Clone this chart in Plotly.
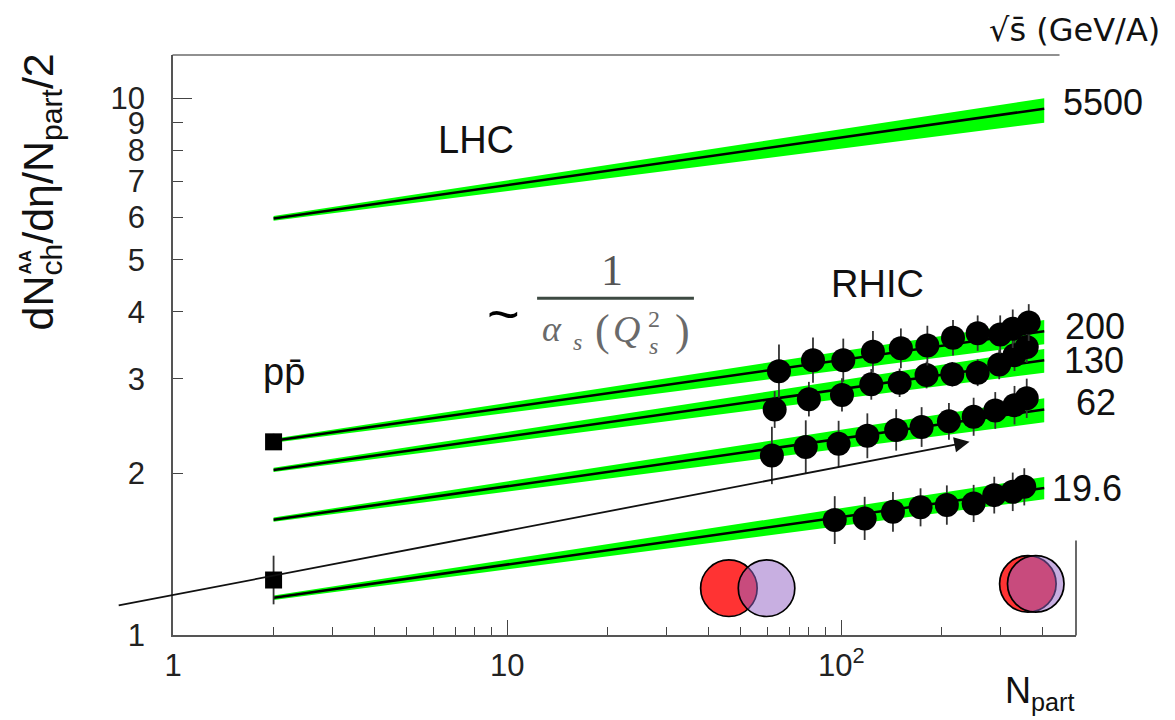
import plotly.graph_objects as go

# ---- data ----
energy_labels = ["5500", "200", "130", "62", "19.6"]
line_x = [2, 405]
line_5500 = [5.97, 9.56]
band_5500_hi = [6.03, 10.0]
band_5500_lo = [5.91, 9.0]
line_200 = [2.30, 3.68]
band_200_hi = [2.32, 3.86]
band_200_lo = [2.28, 3.48]
line_130 = [2.03, 3.25]
band_130_hi = [2.048, 3.41]
band_130_lo = [2.012, 3.08]
line_62 = [1.64, 2.63]
band_62_hi = [1.655, 2.76]
band_62_lo = [1.625, 2.49]
line_19 = [1.173, 1.878]
band_19_hi = [1.184, 1.97]
band_19_lo = [1.162, 1.79]

x_200 = [65.1, 82.3, 101.4, 124.4, 150.8, 181, 216, 256, 299, 326, 364]
y_200 = [3.10, 3.25, 3.25, 3.37, 3.42, 3.46, 3.58, 3.65, 3.63, 3.72, 3.82]
e_200 = [12.1, 10.2, 9.7, 9.3, 8.9, 8.9, 7.9, 7.9, 8.5, 8.6, 8.2]

x_130 = [63.2, 80, 100.5, 123, 149.5, 180, 215, 256, 297, 330, 359]
y_130 = [2.63, 2.75, 2.80, 2.93, 2.95, 3.05, 3.06, 3.08, 3.19, 3.32, 3.44]
e_130 = [8.2, 7.7, 7.4, 6.8, 6.3, 5.9, 5.4, 5.9, 6.5, 7.0, 7.0]

x_62 = [62, 78.3, 98.2, 119.7, 146, 174, 210, 249, 289, 330, 359]
y_62 = [2.16, 2.24, 2.27, 2.35, 2.41, 2.44, 2.50, 2.55, 2.62, 2.68, 2.76]
e_62 = [13.1, 12.1, 10.4, 10.1, 9.3, 8.9, 8.2, 8.5, 8.2, 8.6, 8.8]

x_19 = [95.6, 117.5, 142.8, 172.7, 207, 249, 287, 326, 353]
y_19 = [1.637, 1.649, 1.696, 1.729, 1.746, 1.758, 1.822, 1.848, 1.888]
e_19 = [10.8, 9.7, 8.9, 8.5, 8.8, 8.3, 8.2, 8.6, 8.3]

pp_x = [2, 2]
pp_y = [2.29, 1.266]
pp_e = [3.5, 11.0]

y_ticks = [1, 2, 3, 4, 5, 6, 7, 8, 9, 10]
y_tick_text = ["1", "2", "3", "4", "5", "6", "7", "8", "9", "10"]
x_ticks = [1, 10, 100]
x_tick_text = ["1", "10", "10<sup>2</sup>"]
x_minor = [2, 3, 4, 5, 6, 7, 8, 9, 20, 30, 40, 50, 60, 70, 80, 90, 200, 300, 400]

GREEN = "#00ff00"
SANS = "Liberation Sans"
SERIF = "Liberation Serif"
INK = "#222222"

# the page body has an 8 px margin, so the figure is 8 px smaller and shifted
PAGE = 8
L, T, W, H = 172.5, 55, 904, 580.5


def px(x):
    return (x - L) / W


def py(y):
    return (T + H - y) / H


fig = go.Figure()


def add_band(hi, lo, mid):
    fig.add_trace(go.Scatter(x=line_x + line_x[::-1], y=hi + lo[::-1], mode="lines",
                             line=dict(width=0, color=GREEN), fill="toself",
                             fillcolor=GREEN, hoverinfo="skip", showlegend=False))
    fig.add_trace(go.Scatter(x=line_x, y=mid, mode="lines",
                             line=dict(color="black", width=2.5), showlegend=False))


def add_points(x, y, e, symbol="circle", size=24):
    plus = [v * p / 100 for v, p in zip(y, e)]
    minus = [v - v / (1 + p / 100) for v, p in zip(y, e)]
    fig.add_trace(go.Scatter(x=x, y=y, mode="markers",
                             marker=dict(color="black", size=size, symbol=symbol),
                             error_y=dict(type="data", array=plus, arrayminus=minus,
                                          color="#333333", thickness=1.8, width=0),
                             showlegend=False))


add_band(band_5500_hi, band_5500_lo, line_5500)
add_band(band_200_hi, band_200_lo, line_200)
add_band(band_130_hi, band_130_lo, line_130)
add_band(band_62_hi, band_62_lo, line_62)
add_band(band_19_hi, band_19_lo, line_19)
add_points(x_19, y_19, e_19)
add_points(x_62, y_62, e_62)
add_points(x_130, y_130, e_130)
add_points(x_200, y_200, e_200)
add_points(pp_x, pp_y, pp_e, symbol="square", size=17)


def text(t, x, y, size, font=SANS, color="#111111", anchor="center", angle=0):
    return dict(text=t, x=px(x), y=py(y), xref="paper", yref="paper", showarrow=False,
                xanchor=anchor, yanchor="middle", textangle=angle,
                font=dict(family=font, size=size, color=color))


FRAC = "#6a6a6a"
annotations = [
    text("LHC", 476, 140, 38),
    text("RHIC", 878, 284, 38),
    text("pp\u0304", 284, 372, 38),
    text("~", 503, 314, 56, color="black"),
    text("1", 612, 271, 44, font=SERIF, color="#555555"),
    text("<i>\u03b1</i>", 552, 329, 36, font=SERIF, color=FRAC),
    text("<i>s</i>", 577, 342, 24, font=SERIF, color=FRAC),
    text("(", 602, 331, 44, font=SERIF, color=FRAC),
    text("<i>Q</i>", 627, 329, 38, font=SERIF, color=FRAC),
    text("2", 654, 319, 24, font=SERIF, color=FRAC),
    text("<i>s</i>", 654, 346, 24, font=SERIF, color=FRAC),
    text(")", 683, 331, 44, font=SERIF, color=FRAC),
    text(energy_labels[0], 1104, 103, 36),
    text(energy_labels[1], 1096, 327, 36),
    text(energy_labels[2], 1095, 361, 36),
    text(energy_labels[3], 1097, 403, 36),
    text(energy_labels[4], 1088, 489, 36),
    text("\u221as\u0304 (GeV/A)", 1075, 30, 32, font="DejaVu Sans"),
    text("N<sub>part</sub>", 1040, 694, 36),
    text("dN<sub>ch</sub>/d\u03b7/N<sub>part</sub>/2", 40, 192, 43, angle=-90),
    text("<b>AA</b>", 25, 262, 17, angle=-90),
    # arrow, in log10 data coordinates
    dict(x=2.384, y=0.3598, ax=-0.167, ay=0.0545, xref="x", yref="y", axref="x", ayref="y",
         text="", showarrow=True, arrowhead=2, arrowsize=1.7, arrowwidth=1.8,
         arrowcolor="#111111", standoff=0, startstandoff=0),
]


def circle(cx, cy, r, fill):
    return dict(type="circle", xref="paper", yref="paper", x0=px(cx - r), x1=px(cx + r),
                y0=py(cy + r), y1=py(cy - r), fillcolor=fill,
                line=dict(color="black", width=1.7))


RED = "#ff3333"
LAV = "rgba(147,98,196,0.51)"
shapes = [
    circle(729, 588.7, 28.3, RED),
    circle(766.7, 588.7, 28.3, LAV),
    circle(1028.3, 584.3, 28.3, RED),
    circle(1036.2, 584.3, 28.3, LAV),
    dict(type="line", xref="paper", yref="paper", x0=px(172), x1=px(1060), y0=py(55), y1=py(55),
         line=dict(color="#222222", width=1.2)),
    dict(type="line", xref="paper", yref="paper", x0=px(1076.5), x1=px(1076.5), y0=py(541), y1=py(636),
         line=dict(color="#444444", width=1.6)),
    dict(type="line", xref="paper", yref="paper", x0=px(537), x1=px(694), y0=py(298.5), y1=py(298.5),
         line=dict(color="#3d4a42", width=3)),
]

fig.update_layout(
    width=1175 - PAGE, height=720 - PAGE, autosize=False,
    margin=dict(l=L - PAGE, r=1175 - L - W, t=T - PAGE, b=720 - T - H, pad=0),
    paper_bgcolor="white", plot_bgcolor="white",
    showlegend=False, annotations=annotations, shapes=shapes,
    font=dict(family=SANS, color=INK),
    xaxis=dict(type="log", range=[0, 904 / 334.5], showgrid=False, zeroline=False,
               showline=True, linecolor="#555555", linewidth=1.6, mirror=False,
               tickmode="array", tickvals=x_ticks, ticktext=x_tick_text,
               ticks="inside", ticklen=15, tickcolor="#444444", tickwidth=1.2,
               tickfont=dict(family=SANS, size=31, color=INK), ticklabelstandoff=2,
               minor=dict(tickmode="array", tickvals=x_minor, ticks="inside", ticklen=8,
                          tickcolor="#444444", tickwidth=1.2, showgrid=False)),
    yaxis=dict(type="log", range=[0, 580.5 / 537.3], showgrid=False, zeroline=False,
               showline=True, linecolor="#555555", linewidth=1.6, mirror=False,
               tickmode="array", tickvals=y_ticks, ticktext=y_tick_text,
               ticks="inside", ticklen=10, tickcolor="#444444", tickwidth=1.2,
               tickfont=dict(family=SANS, size=31, color=INK), ticklabelstandoff=20,
               minor=dict(tickmode="array", tickvals=[10], ticks="inside", ticklen=19,
                          tickcolor="#444444", tickwidth=1.2, showgrid=False)),
)

fig.write_html("out.html")
